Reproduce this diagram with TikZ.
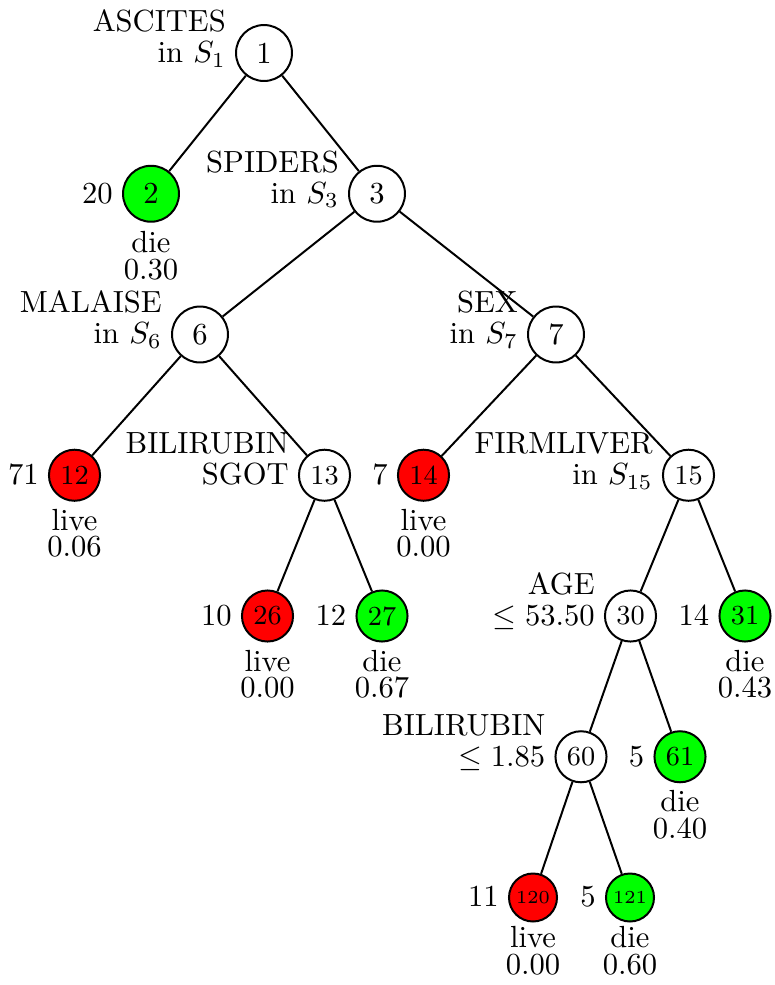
\documentclass[tikz,border=0pt]{standalone}
\usepackage{array}
% two-line split label, baseline on the last line
\newcommand\splitlabel[2]{\begin{tabular}[b]{@{}r@{}}#1\\[-1.8pt]#2\end{tabular}}
% class and probability under a leaf, baseline on the first line
\newcommand\leafinfo[2]{\begin{tabular}[t]{@{}c@{}}#1\\[-3.3pt]#2\end{tabular}}
\begin{document}
\begin{tikzpicture}[x=0.327pt,y=-0.327pt,
  line width=0.65pt,
  nd/.style={circle,draw=black,inner sep=0pt},
  big/.style={nd,minimum size=18.3pt,font=\normalsize},
  mid/.style={nd,minimum size=16.7pt,font=\small},
  sml/.style={nd,minimum size=15.7pt,font=\fontsize{6}{7}\selectfont},
  live/.style={fill=red},
  die/.style={fill=green},
  tag/.style={inner sep=0pt,anchor=base east},
  note/.style={inner sep=0pt,anchor=base},
  branch/.style={draw=black}
]
\useasboundingbox (0,0) rectangle (775,985);

% tree nodes
\node[big]      (n1)   at (264,53)      {1};
\node[big,die]  (n2)   at (151,193.75)  {2};
\node[big]      (n3)   at (377,193.75)  {3};
\node[big]      (n6)   at (200,334.5)   {6};
\node[big]      (n7)   at (556,334.5)   {7};
\node[mid,live] (n12)  at (74.5,475.25) {12};
\node[mid]      (n13)  at (324.5,475.25){13};
\node[mid,live] (n14)  at (423.5,475.25){14};
\node[mid]      (n15)  at (688.5,475.25){15};
\node[mid,live] (n26)  at (267.5,616)   {26};
\node[mid,die]  (n27)  at (382,616)     {27};
\node[mid]      (n30)  at (630.5,616)   {30};
\node[mid,die]  (n31)  at (745,616)     {31};
\node[mid]      (n60)  at (581,756.75)  {60};
\node[mid,die]  (n61)  at (680,756.75)  {61};
\node[sml,live] (n120) at (533,897.5)   {120};
\node[sml,die]  (n121) at (630,897.5)   {121};

% branches
\foreach \a/\b in {n1/n2,n1/n3,n3/n6,n3/n7,n6/n12,n6/n13,n7/n14,n7/n15,
                   n13/n26,n13/n27,n15/n30,n15/n31,n30/n60,n30/n61,
                   n60/n120,n60/n121}
  \draw[branch] (\a) -- (\b);

% split variables
\node[tag] (s1)  at ([xshift=-2.7pt,yshift=-3.1pt]n1.west)  {\splitlabel{ASCITES}{in $S_1$}};
\node[tag] (s3)  at ([xshift=-2.7pt,yshift=-3.1pt]n3.west)  {\splitlabel{SPIDERS}{in $S_3$}};
\node[tag] (s6)  at ([xshift=-2.7pt,yshift=-3.1pt]n6.west)  {\splitlabel{MALAISE}{in $S_6$}};
\node[tag] (s7)  at ([xshift=-2.7pt,yshift=-3.1pt]n7.west)  {\splitlabel{SEX}{in $S_7$}};
\node[tag] (s13) at ([xshift=-2.7pt,yshift=-3.1pt]n13.west) {\splitlabel{BILIRUBIN}{SGOT}};
\node[tag] (s15) at ([xshift=-2.7pt,yshift=-3.1pt]n15.west) {\splitlabel{FIRMLIVER}{in $S_{15}$}};
\node[tag] (s30) at ([xshift=-2.7pt,yshift=-3.1pt]n30.west) {\splitlabel{AGE}{$\le 53.50$}};
\node[tag] (s60) at ([xshift=-2.7pt,yshift=-3.1pt]n60.west) {\splitlabel{BILIRUBIN}{$\le 1.85$}};

% leaf sizes
\node[tag] (c2)   at ([xshift=-2.7pt,yshift=-3.1pt]n2.west)   {20};
\node[tag] (c12)  at ([xshift=-2.7pt,yshift=-3.1pt]n12.west)  {71};
\node[tag] (c14)  at ([xshift=-2.7pt,yshift=-3.1pt]n14.west)  {7};
\node[tag] (c26)  at ([xshift=-2.7pt,yshift=-3.1pt]n26.west)  {10};
\node[tag] (c27)  at ([xshift=-2.7pt,yshift=-3.1pt]n27.west)  {12};
\node[tag] (c31)  at ([xshift=-2.7pt,yshift=-3.1pt]n31.west)  {14};
\node[tag] (c61)  at ([xshift=-2.7pt,yshift=-3.1pt]n61.west)  {5};
\node[tag] (c120) at ([xshift=-2.7pt,yshift=-3.1pt]n120.west) {11};
\node[tag] (c121) at ([xshift=-2.7pt,yshift=-3.1pt]n121.west) {5};

% predicted class and probability
\node[note] (p2)   at ([yshift=-19.3pt]n2.center)   {\leafinfo{die}{0.30}};
\node[note] (p12)  at ([yshift=-18pt]n12.center)    {\leafinfo{live}{0.06}};
\node[note] (p14)  at ([yshift=-18pt]n14.center)    {\leafinfo{live}{0.00}};
\node[note] (p26)  at ([yshift=-18pt]n26.center)    {\leafinfo{live}{0.00}};
\node[note] (p27)  at ([yshift=-18pt]n27.center)    {\leafinfo{die}{0.67}};
\node[note] (p31)  at ([yshift=-18pt]n31.center)    {\leafinfo{die}{0.43}};
\node[note] (p61)  at ([yshift=-18pt]n61.center)    {\leafinfo{die}{0.40}};
\node[note] (p120) at ([yshift=-16.5pt]n120.center) {\leafinfo{live}{0.00}};
\node[note] (p121) at ([yshift=-16.5pt]n121.center) {\leafinfo{die}{0.60}};
\end{tikzpicture}
\end{document}
